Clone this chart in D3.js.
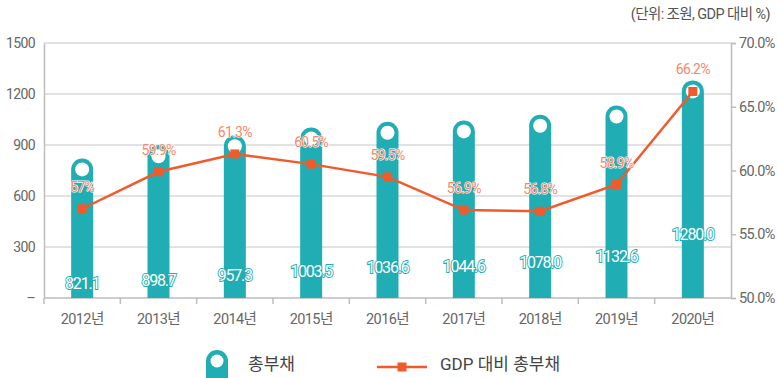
<!DOCTYPE html>
<html>
<head>
<meta charset="utf-8">
<script src="https://cdn.jsdelivr.net/npm/d3@7/dist/d3.min.js"></script>
<style>
  html, body { margin: 0; padding: 0; background: #fff; }
  svg { display: block; font-family: Roboto, "Noto Sans CJK KR", sans-serif; }
</style>
</head>
<body>
<svg id="chart" width="777" height="378"></svg>
<script>
// Government total debt (trillion won) and its ratio to GDP (%)
const years = ["2012년", "2013년", "2014년", "2015년", "2016년", "2017년", "2018년", "2019년", "2020년"];
const totalDebt = [821.1, 898.7, 957.3, 1003.5, 1036.6, 1044.6, 1078.0, 1132.6, 1280.0];
const gdpRatio = [57, 59.9, 61.3, 60.5, 59.5, 56.9, 56.8, 58.9, 66.2];
const ratioLabels = ["57%", "59.9%", "61.3%", "60.5%", "59.5%", "56.9%", "56.8%", "58.9%", "66.2%"];
const leftTicks = [0, 300, 600, 900, 1200, 1500];
const rightTicks = [50, 55, 60, 65, 70];
const unitNote = "(단위: 조원, GDP 대비 %)";
const legendNames = ["총부채", "GDP 대비 총부채"];

const TEAL = "#20adb3";
const ORANGE = "#f15a2b";
const CORAL = "#f7876a";
const GRID = "#d9d9d9";
const AXIS = "#bdbdbd";
const TEXT = "#666";

const svg = d3.select("#chart");
const m = { left: 44, right: 731, top: 43, bottom: 298 };

const x = d3.scaleBand().domain(years).range([m.left, m.right]).padding(0);
const yL = d3.scaleLinear().domain([0, 1500]).range([m.bottom, m.top]);
const yR = d3.scaleLinear().domain([50, 70]).range([m.bottom, m.top]);

// gridlines
svg.append("g").selectAll("line")
  .data(leftTicks.filter(d => d > 0))
  .join("line")
  .attr("x1", m.left).attr("x2", m.right)
  .attr("y1", d => yL(d)).attr("y2", d => yL(d))
  .attr("stroke", GRID).attr("stroke-width", 1.5);

// left axis
const leftAxis = svg.append("g")
  .attr("transform", `translate(${m.left},0)`)
  .call(d3.axisLeft(yL).tickValues(leftTicks).tickSize(0).tickPadding(9)
    .tickFormat(d => d === 0 ? "–" : d));
leftAxis.select(".domain").attr("stroke", AXIS).attr("stroke-width", 1.5);
leftAxis.selectAll("text").attr("fill", TEXT).style("font-size", "14px")
  .style("letter-spacing", "-0.6px").style("font-family", "Roboto, sans-serif");

// right axis
const rightAxis = svg.append("g")
  .attr("transform", `translate(${m.right},0)`)
  .call(d3.axisRight(yR).tickValues(rightTicks).tickSize(5).tickPadding(3)
    .tickFormat(d => d.toFixed(1) + "%"));
rightAxis.select(".domain").attr("stroke", AXIS).attr("stroke-width", 1.5);
rightAxis.selectAll("line").attr("stroke", AXIS).attr("stroke-width", 1.5);
rightAxis.selectAll("text").attr("fill", TEXT).style("font-size", "14.5px")
  .style("letter-spacing", "-0.6px").style("font-family", "Roboto, sans-serif");

// bottom axis with ticks between categories
const bottom = svg.append("g");
bottom.append("line")
  .attr("x1", m.left).attr("x2", m.right).attr("y1", m.bottom).attr("y2", m.bottom)
  .attr("stroke", AXIS).attr("stroke-width", 1.5);
bottom.selectAll("line.tk")
  .data(years)
  .join("line").attr("class", "tk")
  .attr("x1", d => x(d)).attr("x2", d => x(d))
  .attr("y1", m.bottom).attr("y2", m.bottom + 6)
  .attr("stroke", AXIS).attr("stroke-width", 1.5);
bottom.selectAll("text")
  .data(years)
  .join("text")
  .attr("x", d => x(d) + x.bandwidth() / 2)
  .attr("y", 324)
  .attr("text-anchor", "middle")
  .attr("fill", TEXT)
  .style("font-size", "14.5px")
  .style("letter-spacing", "-0.6px")
  .text(d => d);

// pill-shaped bars with a hollow cap
const bw = 22, r = bw / 2;
const pill = (cx, top, base) =>
  `M${cx - r},${base} V${top + r} A${r},${r} 0 0 1 ${cx + r},${top + r} V${base} Z`;

const bars = svg.append("g");
years.forEach((yr, i) => {
  const cx = x(yr) + x.bandwidth() / 2;
  const top = yL(totalDebt[i]);
  bars.append("path").attr("d", pill(cx, top, m.bottom)).attr("fill", TEAL);
  bars.append("circle").attr("cx", cx).attr("cy", top + r).attr("r", 7).attr("fill", "#fff");
});

// bar value labels, lifted progressively with the bar height
const vMin = d3.min(totalDebt), vMax = d3.max(totalDebt);
const lift = v => 15 + 49 * Math.pow((v - vMin) / (vMax - vMin), 1.5);
svg.append("g").selectAll("text")
  .data(totalDebt)
  .join("text")
  .attr("x", (d, i) => x(years[i]) + x.bandwidth() / 2)
  .attr("y", d => m.bottom - lift(d) + 6)
  .attr("text-anchor", "middle")
  .attr("fill", "#fff")
  .attr("stroke", TEAL)
  .attr("stroke-width", 1.8)
  .attr("paint-order", "stroke")
  .style("font-size", "16px")
  .style("letter-spacing", "-1.2px")
  .text(d => d.toFixed(1));

// ratio line
const line = d3.line()
  .x((d, i) => x(years[i]) + x.bandwidth() / 2)
  .y(d => yR(d));
svg.append("path")
  .datum(gdpRatio)
  .attr("d", line)
  .attr("fill", "none")
  .attr("stroke", ORANGE)
  .attr("stroke-width", 2.5);
svg.append("g").selectAll("rect")
  .data(gdpRatio)
  .join("rect")
  .attr("x", (d, i) => x(years[i]) + x.bandwidth() / 2 - 4.5)
  .attr("y", d => yR(d) - 4.5)
  .attr("width", 9).attr("height", 9)
  .attr("fill", ORANGE);

// ratio labels
svg.append("g").selectAll("text")
  .data(gdpRatio)
  .join("text")
  .attr("x", (d, i) => x(years[i]) + x.bandwidth() / 2)
  .attr("y", d => yR(d) - 17)
  .attr("text-anchor", "middle")
  .attr("fill", CORAL)
  .attr("stroke", "#fff")
  .attr("stroke-width", 1.2)
  .attr("paint-order", "stroke")
  .style("font-size", "14px")
  .style("letter-spacing", "-0.7px")
  .text((d, i) => ratioLabels[i]);

// unit note
svg.append("text")
  .attr("x", 770).attr("y", 19)
  .attr("text-anchor", "end")
  .attr("fill", "#555")
  .style("font-size", "14.5px")
  .style("letter-spacing", "-0.6px")
  .text(unitNote);

// legend
const lg = svg.append("g");
lg.append("path").attr("d", pill(217, 350, 380)).attr("fill", TEAL);
lg.append("circle").attr("cx", 217).attr("cy", 361).attr("r", 6.5).attr("fill", "#fff");
lg.append("text").attr("x", 248).attr("y", 370).attr("fill", "#444")
  .style("font-size", "17px").text(legendNames[0]);
lg.append("line").attr("x1", 377).attr("x2", 427).attr("y1", 367).attr("y2", 367)
  .attr("stroke", ORANGE).attr("stroke-width", 2.5);
lg.append("rect").attr("x", 397.5).attr("y", 362.5).attr("width", 9).attr("height", 9).attr("fill", ORANGE);
lg.append("text").attr("x", 440).attr("y", 370).attr("fill", "#444")
  .style("font-size", "17px").text(legendNames[1]);
</script>
</body>
</html>
